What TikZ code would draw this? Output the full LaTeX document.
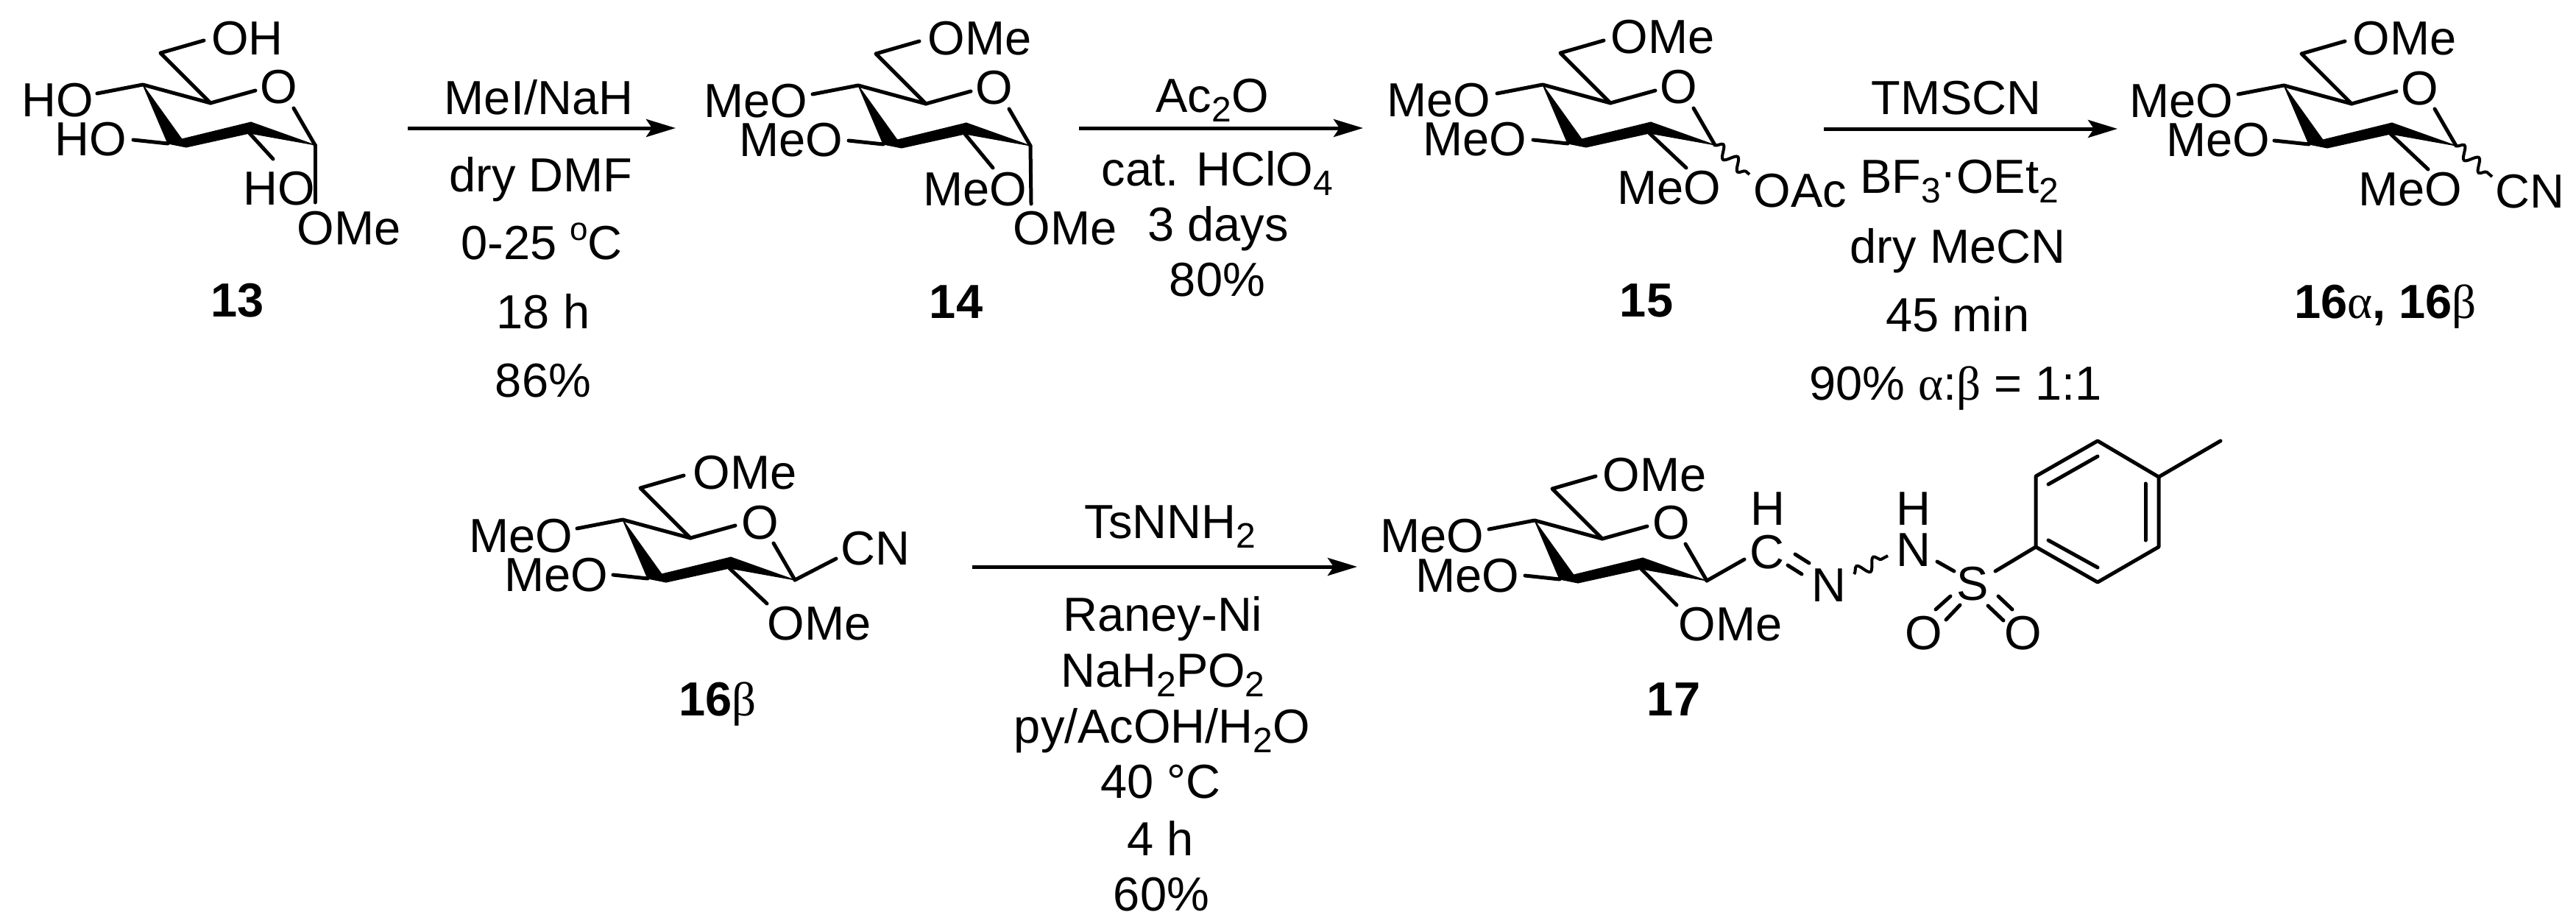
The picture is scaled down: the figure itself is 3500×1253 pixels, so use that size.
\documentclass[tikz,border=0pt]{standalone}
\usepackage{fontspec}
\setmainfont{Liberation Sans}
\newfontfamily\grkfont{Liberation Serif}
\usetikzlibrary{arrows.meta}
\usetikzlibrary{decorations.pathmorphing}
\newcommand{\chsub}[1]{\raisebox{-0.215em}{\fontsize{24}{24}\selectfont #1}}
\newcommand{\chsup}[1]{\raisebox{0.4em}{\fontsize{22}{22}\selectfont #1}}
\newcommand{\gra}{{\grkfont α}}
\newcommand{\grb}{{\grkfont β}}

\begin{document}
\begin{tikzpicture}[x=0.5pt,y=-0.5pt,
    bond/.style={line width=2.5pt,line cap=round,line join=round},
    wedge/.style={fill=black,draw=black,line width=0.5pt,line join=round},
    wavy/.style={line width=2pt,decorate,decoration={snake,amplitude=4pt,segment length=13pt}},
    rxnarrow/.style={line width=2.5pt,-{Stealth[length=20pt,width=12pt,inset=4pt]}},
    atom/.style={inner sep=0pt,font=\fontsize{32.5}{32.5}\selectfont},
    rxn/.style={inner sep=0pt,anchor=base,font=\fontsize{32.5}{32.5}\selectfont},
    cmpd/.style={inner sep=0pt,anchor=base,font=\fontsize{32.5}{32.5}\selectfont\bfseries}]
\useasboundingbox (0,0) rectangle (3500,1253);

\foreach \mol/\cx/\cy/\sx/\sy in {a/194/115/177/101,b/1166/116/183/112,c/2096/115/195/113,d/3103/116/196/114,e/846/706/196/114,f/2085/707/193/115}{
\begin{scope}[shift={(\cx,\cy)},name prefix=\mol-]
    \coordinate (C4) at (0,0);
    \coordinate (C5) at (92,25);
    \coordinate (C6) at (24,-43);
    \coordinate (C1) at (234,82);
    \coordinate (C2) at (147,51);
    \coordinate (C2b) at (145,66);
    \coordinate (C3) at (59,85);
    \coordinate (C3i) at (53,74);
    \coordinate (C3o) at (34,80);
    \coordinate (O4) at (-62,12);
    \coordinate (O3) at (-13,75);
    \coordinate (O2) at (\sx,\sy);
    \coordinate (O6) at (83,-60);
    \coordinate (Oa) at (153,8);
    \coordinate (Ob) at (205,32);
    \fill[wedge] (C4) -- (C3o) -- (C3) -- (C3i) -- cycle;
    \fill[wedge] (C3i) -- (C2) -- (C2b) -- (C3) -- cycle;
    \fill[wedge] (C2) -- (C1) -- (C2b) -- cycle;
    \draw[bond] (O4) -- (C4) -- (C5) -- (Oa);
    \draw[bond] (O6) -- (C6) -- (C5);
    \draw[bond] (Ob) -- (C1);
    \draw[bond] (O3) -- (C3o);
    \draw[bond] (C2b) -- (O2);
\end{scope}
}

\node[atom] (a6) at (336,52) {OH};
\node[atom] (a5) at (379,118) {O};
\node[atom] (a4) at (78,136) {HO};
\node[atom] (a3) at (123,189) {HO};
\node[atom] (a2) at (379,256) {HO};
\node[atom] (a1) at (474,310) {OMe};
\coordinate (a1e) at (428,275);
\draw[bond] (a-C1) -- (a1e);
\node[cmpd] (lab13) at (323,430) {13};

\node[atom] (b6) at (1331,52) {OMe};
\node[atom] (b5) at (1351,119) {O};
\node[atom] (b4) at (1027,137) {MeO};
\node[atom] (b3) at (1075,190) {MeO};
\node[atom] (b2) at (1325,257) {MeO};
\node[atom] (b1) at (1447,310) {OMe};
\coordinate (b1e) at (1401,277);
\draw[bond] (b-C1) -- (b1e);
\node[cmpd] (lab14) at (1299,432) {14};

\node[atom] (c6) at (2259,50) {OMe};
\node[atom] (c5) at (2281,118) {O};
\node[atom] (c4) at (1955,136) {MeO};
\node[atom] (c3) at (2004,189) {MeO};
\node[atom] (c2) at (2268,255) {MeO};
\node[atom] (c1) at (2446,259) {OAc};
\coordinate (c1e) at (2377,237);
\draw[wavy] (c-C1) -- (c1e);
\node[cmpd] (lab15) at (2237,430) {15};

\node[atom] (d6) at (3267,52) {OMe};
\node[atom] (d5) at (3288,120) {O};
\node[atom] (d4) at (2964,137) {MeO};
\node[atom] (d3) at (3014,190) {MeO};
\node[atom] (d2) at (3275,257) {MeO};
\node[atom] (d1) at (3437,260) {CN};
\coordinate (d1e) at (3386,240);
\draw[wavy] (d-C1) -- (d1e);
\node[cmpd] (lab16) at (3241,432) {16{\mdseries\gra}, 16{\mdseries\grb}};

\node[atom] (e6) at (1012,642) {OMe};
\node[atom] (e5) at (1033,710) {O};
\node[atom] (e4) at (708,728) {MeO};
\node[atom] (e3) at (756,781) {MeO};
\node[atom] (e2) at (1113,847) {OMe};
\node[atom] (e1) at (1189,745) {CN};
\coordinate (e1e) at (1136,759);
\draw[bond] (e-C1) -- (e1e);
\node[cmpd] (lab16b) at (975,972) {16{\mdseries\grb}};

\node[atom] (f6) at (2248,645) {OMe};
\node[atom] (f5) at (2271,710) {O};
\node[atom] (f4) at (1946,728) {MeO};
\node[atom] (f3) at (1994,782) {MeO};
\node[atom] (f2) at (2351,848) {OMe};
\node[atom] (fC) at (2401,750) {C};
\node[atom] (fH) at (2402,691) {H};
\node[atom] (fN) at (2485,795) {N};
\node[atom] (fNH) at (2600,747) {N};
\node[atom] (fHN) at (2600,691) {H};
\node[atom] (fS) at (2680,793) {S};
\node[atom] (fOa) at (2614,860) {O};
\node[atom] (fOb) at (2749,860) {O};
\node[cmpd] (lab17) at (2274,972) {17};
\coordinate (f1e) at (2370,760);
\draw[bond] (f-C1) -- (f1e);
\coordinate (da1) at (2439,753);
\coordinate (da2) at (2458,765);
\coordinate (db1) at (2429,768);
\coordinate (db2) at (2448,780);
\draw[bond] (da1) -- (da2);
\draw[bond] (db1) -- (db2);
\coordinate (wa) at (2519,780);
\coordinate (wb) at (2565,755);
\draw[wavy] (wa) -- (wb);
\coordinate (ns1) at (2632,763);
\coordinate (ns2) at (2655,776);
\draw[bond] (ns1) -- (ns2);
\coordinate (oa1) at (2650,810);
\coordinate (oa2) at (2630,828);
\coordinate (oa3) at (2663,822);
\coordinate (oa4) at (2644,842);
\draw[bond] (oa1) -- (oa2);
\draw[bond] (oa3) -- (oa4);
\coordinate (ob1) at (2715,810);
\coordinate (ob2) at (2734,828);
\coordinate (ob3) at (2701,823);
\coordinate (ob4) at (2722,843);
\draw[bond] (ob1) -- (ob2);
\draw[bond] (ob3) -- (ob4);
\coordinate (r1) at (2766,743);
\coordinate (r2) at (2766,647);
\coordinate (r3) at (2850,599);
\coordinate (r4) at (2933,648);
\coordinate (r5) at (2933,743);
\coordinate (r6) at (2850,791);
\coordinate (me) at (3017,599);
\coordinate (sr) at (2711,776);
\draw[bond] (r1) -- (r2) -- (r3) -- (r4) -- (r5) -- (r6) -- cycle;
\draw[bond] (sr) -- (r1);
\draw[bond] (r4) -- (me);
\coordinate (i1) at (2783,658);
\coordinate (i2) at (2850,620);
\coordinate (i3) at (2915,657);
\coordinate (i4) at (2915,734);
\coordinate (i5) at (2783,734);
\coordinate (i6) at (2850,771);
\draw[bond] (i1) -- (i2);
\draw[bond] (i3) -- (i4);
\draw[bond] (i5) -- (i6);

\coordinate (s1) at (554,174);
\coordinate (t1) at (918,174);
\draw[rxnarrow] (s1) -- (t1);
\node[rxn] (m1a) at (732,155) {MeI/NaH};
\node[rxn] (m1b) at (735,260) {dry DMF};
\node[rxn] (m1c) at (736,352) {0-25 \chsup{o}C};
\node[rxn] (m1d) at (738,446) {18 h};
\node[rxn] (m1e) at (738,539) {86\%};

\coordinate (s2) at (1466,174);
\coordinate (t2) at (1852,174);
\draw[rxnarrow] (s2) -- (t2);
\node[rxn] (m2a) at (1647,152) {Ac\chsub{2}O};
\node[rxn] (m2b) at (1654,252) {cat. HClO\chsub{4}};
\node[rxn] (m2c) at (1655,327) {3 days};
\node[rxn] (m2d) at (1654,402) {80\%};

\coordinate (s3) at (2478,175);
\coordinate (t3) at (2877,175);
\draw[rxnarrow] (s3) -- (t3);
\node[rxn] (m3a) at (2658,155) {TMSCN};
\node[rxn] (m3b) at (2662,262) {BF\chsub{3}\raisebox{0.1em}{·}OEt\chsub{2}};
\node[rxn] (m3c) at (2660,357) {dry MeCN};
\node[rxn] (m3d) at (2660,450) {45 min};
\node[rxn] (m3e) at (2657,543) {90\% \gra:\grb{} = 1:1};

\coordinate (s4) at (1321,770);
\coordinate (t4) at (1844,770);
\draw[rxnarrow] (s4) -- (t4);
\node[rxn] (m4a) at (1590,731) {TsNNH\chsub{2}};
\node[rxn] (m4b) at (1580,857) {Raney-Ni};
\node[rxn] (m4c) at (1580,933) {NaH\chsub{2}PO\chsub{2}};
\node[rxn] (m4d) at (1579,1009) {py/AcOH/H\chsub{2}O};
\node[rxn] (m4e) at (1577,1084) {40 °C};
\node[rxn] (m4f) at (1577,1162) {4 h};
\node[rxn] (m4g) at (1578,1237) {60\%};
\end{tikzpicture}
\end{document}
